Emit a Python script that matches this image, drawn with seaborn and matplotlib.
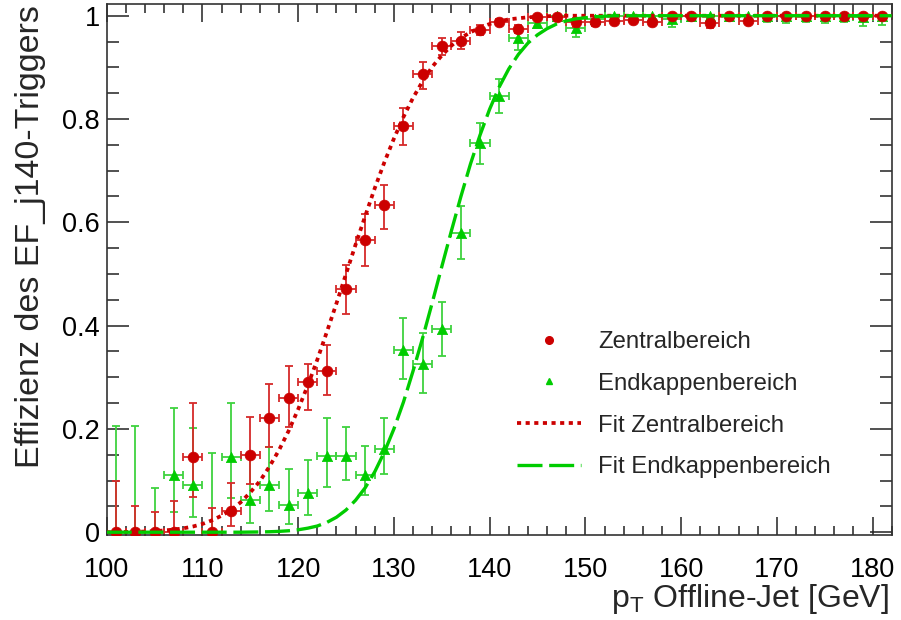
import numpy as np
import pandas as pd
import matplotlib
matplotlib.use("Agg")
import matplotlib.pyplot as plt
import seaborn as sns
from matplotlib.lines import Line2D
from matplotlib.ticker import MultipleLocator, FuncFormatter

# ---------------- data ----------------
bin_centers = [101, 103, 105, 107, 109, 111, 113, 115, 117, 119, 121, 123, 125, 127, 129,
               131, 133, 135, 137, 139, 141, 143, 145, 147, 149, 151, 153, 155, 157, 159,
               161, 163, 165, 167, 169, 171, 173, 175, 177, 179, 181]
bin_half_width = 1.0

zentral_eff = [0.0, 0.0, 0.0, 0.0, 0.145, 0.0, 0.041, 0.149, 0.222, 0.259, 0.290, 0.312, 0.470, 0.566, 0.633,
               0.787, 0.887, 0.941, 0.952, 0.973, 0.988, 0.975, 0.997, 0.997, 0.987, 0.987, 0.990, 0.992, 0.988, 1.0,
               1.0, 0.986, 1.0, 0.990, 1.0, 1.0, 1.0, 1.0, 1.0, 1.0, 1.0]
zentral_err_lo = [0.0, 0.0, 0.0, 0.0, 0.076, 0.0, 0.029, 0.056, 0.057, 0.056, 0.053, 0.046, 0.048, 0.050, 0.045,
                  0.037, 0.028, 0.018, 0.016, 0.010, 0.006, 0.008, 0.003, 0.004, 0.008, 0.006, 0.005, 0.005, 0.006, 0.0,
                  0.0, 0.010, 0.0, 0.005, 0.0, 0.0, 0.0, 0.0, 0.0, 0.0, 0.0]
zentral_err_hi = [0.10, 0.05, 0.04, 0.06, 0.106, 0.046, 0.055, 0.075, 0.065, 0.062, 0.035, 0.050, 0.047, 0.050, 0.040,
                  0.035, 0.023, 0.016, 0.016, 0.010, 0.006, 0.008, 0.003, 0.003, 0.008, 0.006, 0.005, 0.005, 0.006, 0.0,
                  0.0, 0.010, 0.0, 0.005, 0.0, 0.0, 0.0, 0.0, 0.0, 0.0, 0.0]

endkappe_eff = [0.0, 0.0, 0.0, 0.111, 0.091, 0.0, 0.145, 0.062, 0.091, 0.053, 0.075, 0.147, 0.147, 0.111, 0.162,
                0.353, 0.325, 0.394, 0.580, 0.753, 0.845, 0.957, 0.986, 1.0, 0.976, 0.993, 1.0, 1.0, 1.0, 0.993,
                1.0, 1.0, 1.0, 1.0, 1.0, 1.0, 1.0, 1.0, 1.0, 0.998, 1.0]
endkappe_err_lo = [0.0, 0.0, 0.0, 0.072, 0.061, 0.0, 0.078, 0.045, 0.049, 0.038, 0.041, 0.059, 0.045, 0.039, 0.050,
                   0.056, 0.055, 0.052, 0.051, 0.041, 0.034, 0.024, 0.010, 0.008, 0.018, 0.008, 0.005, 0.005, 0.005, 0.015,
                   0.010, 0.008, 0.010, 0.005, 0.012, 0.015, 0.012, 0.015, 0.012, 0.018, 0.018]
endkappe_err_hi = [0.206, 0.206, 0.085, 0.130, 0.110, 0.153, 0.105, 0.083, 0.074, 0.069, 0.065, 0.075, 0.057, 0.055, 0.060,
                   0.062, 0.060, 0.051, 0.051, 0.039, 0.032, 0.016, 0.008, 0.0, 0.014, 0.006, 0.0, 0.0, 0.0, 0.007,
                   0.0, 0.0, 0.0, 0.0, 0.0, 0.0, 0.0, 0.0, 0.0, 0.002, 0.0]

# fit curves at 1 GeV steps (100 ... 182)
fit_x = list(range(100, 183))
fit_zentral = [0.0002, 0.0003, 0.0005, 0.0008, 0.0013, 0.0021, 0.0034, 0.0051, 0.0075, 0.011,
               0.016, 0.023, 0.032, 0.043, 0.058, 0.077, 0.099, 0.127, 0.159, 0.196,
               0.238, 0.284, 0.334, 0.388, 0.443, 0.500, 0.557, 0.612, 0.666, 0.716,
               0.762, 0.804, 0.841, 0.873, 0.901, 0.923, 0.942, 0.957, 0.968, 0.977,
               0.984, 0.989, 0.993, 0.995, 0.997, 0.998, 0.999] + [1.0] * 36
fit_endkappe = [0.0] * 15 + [0.0003, 0.0005, 0.0009, 0.0016, 0.0028,
                0.0047, 0.0078, 0.012, 0.019, 0.029, 0.043, 0.062, 0.086, 0.117, 0.155,
                0.200, 0.252, 0.312, 0.376, 0.444, 0.514, 0.583, 0.650, 0.713, 0.769,
                0.819, 0.862, 0.897, 0.925, 0.947, 0.963, 0.975, 0.984, 0.990, 0.994,
                0.996, 0.998, 0.999] + [1.0] * 30

labels = ["Zentralbereich", "Endkappenbereich", "Fit Zentralbereich", "Fit Endkappenbereich"]
xlabel = r"p$_{\mathrm{T}}$ Offline-Jet [GeV]"
ylabel = "Effizienz des EF_j140-Triggers"
xticks = [100, 110, 120, 130, 140, 150, 160, 170, 180]
yticks = [0, 0.2, 0.4, 0.6, 0.8, 1.0]

# ---------------- style ----------------
sns.set_theme(style="ticks")
plt.rcParams["font.family"] = ["Liberation Sans", "DejaVu Sans"]
plt.rcParams["mathtext.fontset"] = "custom"
plt.rcParams["mathtext.rm"] = "Liberation Sans"
plt.rcParams["mathtext.it"] = "Liberation Sans:italic"
plt.rcParams["mathtext.default"] = "regular"

RED = "#cc0000"
RED_ERR = "#d62a2a"
GREEN = "#00cc00"
GREEN_ERR = "#3fd23f"

W, H = 901, 620
fig = plt.figure(figsize=(W / 100, H / 100), dpi=100)
fig.patch.set_facecolor("white")
L, R, T, B = 106.7, 891.7, 4.0, 535.0
ax = fig.add_axes([L / W, 1 - B / H, (R - L) / W, (B - T) / H])
ax.set_facecolor("white")

xe = [bin_half_width] * len(bin_centers)

# data points
ax.errorbar(bin_centers, endkappe_eff, xerr=xe, yerr=[endkappe_err_lo, endkappe_err_hi],
            fmt="none", ecolor=GREEN_ERR, elinewidth=1.3, capsize=3.2, capthick=1.3, zorder=2)
ax.errorbar(bin_centers, zentral_eff, xerr=xe, yerr=[zentral_err_lo, zentral_err_hi],
            fmt="none", ecolor=RED_ERR, elinewidth=1.3, capsize=3.2, capthick=1.3, zorder=2)
sns.scatterplot(x=bin_centers, y=endkappe_eff, ax=ax, marker="^", s=55, color=GREEN,
                edgecolor=GREEN, linewidth=0.5, zorder=3, legend=False)
sns.scatterplot(x=bin_centers, y=zentral_eff, ax=ax, marker="o", s=60, color=RED,
                edgecolor=RED, linewidth=0.5, zorder=3, legend=False)

# fit curves
sns.lineplot(x=fit_x, y=fit_zentral, ax=ax, color=RED, linewidth=2.7,
             linestyle=(0, (1.1, 1.2)), errorbar=None, zorder=4)
sns.lineplot(x=fit_x, y=fit_endkappe, ax=ax, color=GREEN, linewidth=2.4,
             linestyle=(0, (7.5, 2.0)), errorbar=None, zorder=5)

ax.set_xlim(100, 182)
ax.set_ylim(-0.0054, 1.0227)

ax.set_xticks(xticks)
ax.xaxis.set_minor_locator(MultipleLocator(2))
ax.set_yticks(yticks)
ax.yaxis.set_minor_locator(MultipleLocator(0.05))
ax.yaxis.set_major_formatter(FuncFormatter(lambda v, p: f"{v:g}"))

ax.tick_params(axis="both", which="both", direction="in", top=True, right=True,
               colors="#222222", labelcolor="black", width=1.1, labelsize=19.5)
ax.tick_params(axis="x", which="major", length=13, pad=16)
ax.tick_params(axis="x", which="minor", length=6.5)
ax.tick_params(axis="y", which="major", length=16, pad=5)
ax.tick_params(axis="y", which="minor", length=8.5)
for s in ax.spines.values():
    s.set_color("#333333")
    s.set_linewidth(1.2)

# axis labels
ax.set_xlabel(xlabel, fontsize=23, loc="right")
ax.xaxis.set_label_coords((889 - L) / (R - L), (B - 582) / (B - T))
ax.set_ylabel(ylabel, fontsize=24.5, loc="top")
ax.yaxis.set_label_coords((46 - L) / (R - L), (B - 5) / (B - T))

# legend
handles = [
    Line2D([], [], linestyle="none", marker="o", markersize=5.5, color=RED, markeredgecolor=RED),
    Line2D([], [], linestyle="none", marker="^", markersize=5, color=GREEN, markeredgecolor=GREEN),
    Line2D([], [], color=RED, linewidth=2.7, linestyle=(0, (1.1, 1.2))),
    Line2D([], [], color=GREEN, linewidth=2.4, linestyle=(0, (7.5, 2.0))),
]
leg = ax.legend(handles, labels, frameon=False, fontsize=17.2, loc="upper left",
                bbox_to_anchor=((517 - L) / (R - L), (B - 331) / (B - T)),
                borderaxespad=0, borderpad=0, handlelength=2.7, handletextpad=0.7,
                labelspacing=0.83, numpoints=1)

fig.savefig("out.png", dpi=100, facecolor="white")
